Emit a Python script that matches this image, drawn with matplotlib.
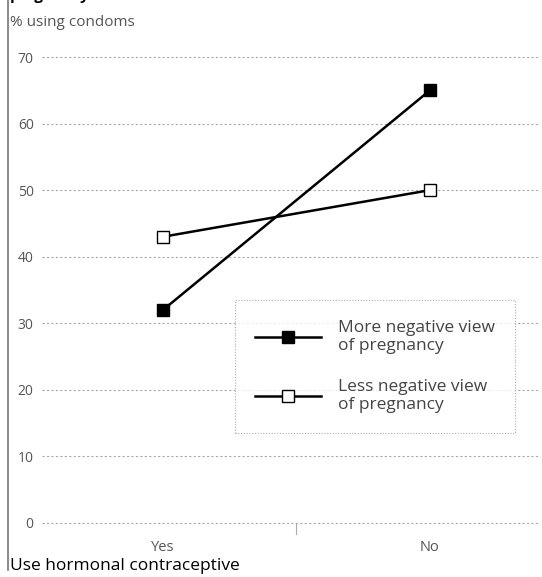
import matplotlib
matplotlib.use("Agg")
import matplotlib.pyplot as plt
from matplotlib.lines import Line2D

categories = ["Yes", "No"]
more_negative = [32, 65]
less_negative = [43, 50]
series_labels = ["More negative view\nof pregnancy", "Less negative view\nof pregnancy"]
yticks = [0, 10, 20, 30, 40, 50, 60, 70]

W, H = 542, 577
fig = plt.figure(figsize=(W / 100, H / 100), dpi=100)
plt.rcParams['font.family'] = ['Open Sans', 'DejaVu Sans']

# axes in pixel coordinates
x0, x1 = 42, 540
y_top, y_bot = 57, 523
ax = fig.add_axes([x0 / W, 1 - y_bot / H, (x1 - x0) / W, (y_bot - y_top) / H])
ax.set_ylim(0, 70)
ax.set_xlim(-0.453, 1.412)
for s in ax.spines.values():
    s.set_visible(False)

for yv in yticks:
    ax.axhline(yv, color="#aaaaaa", lw=0.8, ls=(0, (2, 2)), zorder=0, clip_on=False)

xs = list(range(len(categories)))
ax.plot(xs, more_negative, color="black", lw=1.8, marker="s", ms=8,
        mfc="black", mec="black", zorder=3, clip_on=False)
ax.plot(xs, less_negative, color="black", lw=1.8, marker="s", ms=8,
        mfc="white", mec="black", mew=1.0, zorder=3, clip_on=False)

ax.set_yticks(yticks)
ax.set_yticklabels([str(v) for v in yticks])
ax.tick_params(axis="y", length=0, pad=6, labelsize=10, labelcolor="#555555")
ax.set_xticks(xs)
ax.set_xticklabels(categories)
ax.tick_params(axis="x", length=0, pad=12, labelsize=10.5, labelcolor="#555555")
# small separator tick between categories
ax.plot([0.5, 0.5], [0, -1.6], color="#aaaaaa", lw=0.8, clip_on=False)

handles = [
    Line2D([], [], color="black", lw=1.8, marker="s", ms=8, mfc="black", mec="black"),
    Line2D([], [], color="black", lw=1.8, marker="s", ms=8, mfc="white", mec="black"),
]
leg = fig.legend(handles, series_labels, loc="upper left",
                 bbox_to_anchor=(235 / W, 1 - 300 / H), bbox_transform=fig.transFigure,
                 frameon=True, fancybox=False, handlelength=3.8, fontsize=12.5,
                 labelspacing=1.4, borderpad=1.15, handletextpad=1.0,
                 borderaxespad=0, labelcolor="#444444")
fr = leg.get_frame()
fr.set_edgecolor("#999999")
fr.set_linestyle((0, (1, 1.5)))
fr.set_linewidth(0.8)

# left border line
fig.add_artist(Line2D([8 / W, 8 / W], [1 - 570 / H, 1.0], color="#777777", lw=1.2,
                      transform=fig.transFigure))

fig.text(10 / W, 1 + 4 / H, "pregnancy", fontsize=11, fontweight="bold",
         ha="left", va="center", color="black")
fig.text(10 / W, 1 - 22 / H, "% using condoms", fontsize=11, color="#555555",
         ha="left", va="center")
fig.text(10 / W, 1 - 566 / H, "Use hormonal contraceptive", fontsize=12.5,
         color="black", ha="left", va="center")

fig.savefig("out.png", dpi=100)
